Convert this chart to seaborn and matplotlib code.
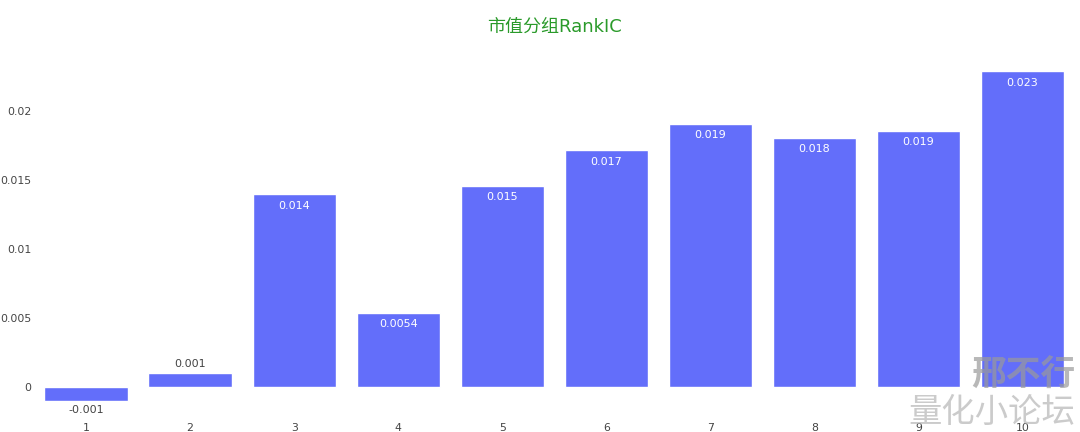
import numpy as np
import pandas as pd
import matplotlib.pyplot as plt
import seaborn as sns

# data
groups = ['1', '2', '3', '4', '5', '6', '7', '8', '9', '10']
rank_ic = [-0.001, 0.001, 0.014, 0.0054, 0.0146, 0.0172, 0.0191, 0.0181, 0.0186, 0.0229]
y_ticks = [0, 0.005, 0.01, 0.015, 0.02]
y_tick_labels = ['0', '0.005', '0.01', '0.015', '0.02']

df = pd.DataFrame({'group': groups, 'ic': rank_ic})

sns.set_theme(style='white')
plt.rcParams['font.family'] = ['DejaVu Sans', 'Noto Sans CJK SC']

fig = plt.figure(figsize=(10.8, 4.32), dpi=100)
ax = fig.add_axes([0.0315, 0.05, 0.9635, 0.823])

sns.barplot(data=df, x='group', y='ic', color='#636efa', saturation=1,
            width=0.8, ax=ax)

# labels: white inside the tall bars, grey outside the small ones
labels = ['{:.2g}'.format(v) for v in rank_ic]
inside = [abs(v) > 0.003 for v in rank_ic]
cont = ax.containers[0]
ax.bar_label(cont, labels=[l if i else '' for l, i in zip(labels, inside)],
             label_type='edge', padding=-12, color='white', fontsize=8)
ax.bar_label(cont, labels=[l if not i else '' for l, i in zip(labels, inside)],
             label_type='edge', padding=3, color='#444444', fontsize=8)

ax.set_xlim(-0.5, 9.5)
ax.set_ylim(-0.0017, 0.0241)
ax.set_yticks(y_ticks)
ax.set_yticklabels(y_tick_labels)
ax.tick_params(axis='y', labelsize=7.8, colors='#444444', length=0, pad=2)
ax.tick_params(axis='x', labelsize=7.8, colors='#444444', length=0, pad=9)
ax.set_xlabel('')
ax.set_ylabel('')
for s in ax.spines.values():
    s.set_visible(False)
ax.grid(False)

fig.suptitle('市值分组RankIC', x=0.513, y=0.96, fontsize=13, color='#2a9a2a',
             fontfamily=['DejaVu Sans', 'Noto Sans CJK SC'])

# watermark
fig.text(0.996, 0.09, '邢不行', ha='right', va='bottom', fontsize=25,
         fontweight='bold', style='italic', color='#9a9a9a', alpha=0.7,
         fontfamily=['Noto Sans CJK SC'])
fig.text(0.996, 0.005, '量化小论坛', ha='right', va='bottom', fontsize=24,
         color='#b5b5b5', alpha=0.7, fontfamily=['Noto Sans CJK SC'])

fig.savefig('out.png', dpi=100)
